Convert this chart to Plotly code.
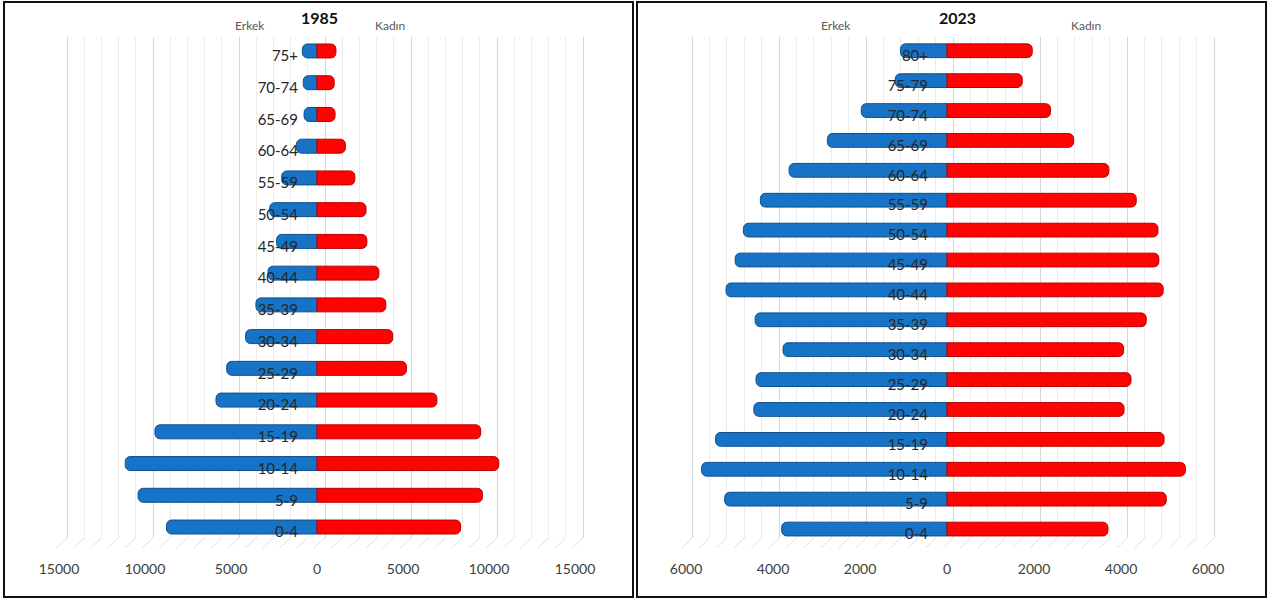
import plotly.graph_objects as go

# ---------------- data ----------------
ages_1985 = ["0-4", "5-9", "10-14", "15-19", "20-24", "25-29", "30-34", "35-39",
             "40-44", "45-49", "50-54", "55-59", "60-64", "65-69", "70-74", "75+"]
erkek_1985 = [8750, 10400, 11150, 9420, 5870, 5250, 4150, 3550,
              2850, 2350, 2750, 2050, 1200, 750, 800, 850]
kadin_1985 = [8350, 9620, 10570, 9520, 6970, 5200, 4400, 4000,
              3600, 2900, 2850, 2200, 1650, 1050, 1000, 1100]

ages_2023 = ["0-4", "5-9", "10-14", "15-19", "20-24", "25-29", "30-34", "35-39",
             "40-44", "45-49", "50-54", "55-59", "60-64", "65-69", "70-74", "75-79", "80+"]
erkek_2023 = [3800, 5110, 5640, 5320, 4440, 4390, 3770, 4410,
              5080, 4870, 4680, 4290, 3630, 2750, 1970, 1190, 1070]
kadin_2023 = [3700, 5040, 5480, 4990, 4070, 4230, 4060, 4580,
              4970, 4870, 4850, 4350, 3720, 2910, 2380, 1730, 1960]

ticks_1985 = [-15000, -10000, -5000, 0, 5000, 10000, 15000]
ticktext_1985 = ["15000", "10000", "5000", "0", "5000", "10000", "15000"]
minor_1985 = list(range(-15000, 15001, 1000))

ticks_2023 = [-6000, -4000, -2000, 0, 2000, 4000, 6000]
ticktext_2023 = ["6000", "4000", "2000", "0", "2000", "4000", "6000"]
minor_2023 = list(range(-6000, 6001, 400))

titles = ["1985", "2023"]
sex_labels = ["Erkek", "Kadın"]

# ---------------- geometry helpers ----------------
W, H = 1269, 603
def px(x):
    return x / W
def py(y):
    return 1 - y / H

FONT = "Lato"
BLUE = "#1773C6"
BLUE_EDGE = "#0E4F8C"
RED = "#FF0303"
RED_EDGE = "#B80000"

fig = go.Figure()

# empty traces so the grid subplots exist (drawn first, underneath bars)
fig.add_trace(go.Scatter(x=[], y=[], xaxis="x", yaxis="y", showlegend=False, hoverinfo="skip"))
fig.add_trace(go.Scatter(x=[], y=[], xaxis="x2", yaxis="y2", showlegend=False, hoverinfo="skip"))

# bars 1985
fig.add_trace(go.Bar(y=ages_1985, x=[-v for v in erkek_1985], orientation="h",
                     xaxis="x3", yaxis="y3", name="Erkek", width=0.44,
                     marker=dict(color=BLUE, line=dict(color=BLUE_EDGE, width=1), cornerradius=5),
                     showlegend=False))
fig.add_trace(go.Bar(y=ages_1985, x=kadin_1985, orientation="h",
                     xaxis="x3", yaxis="y3", name="Kadın", width=0.44,
                     marker=dict(color=RED, line=dict(color=RED_EDGE, width=1), cornerradius=5),
                     showlegend=False))
# bars 2023
fig.add_trace(go.Bar(y=ages_2023, x=[-v for v in erkek_2023], orientation="h",
                     xaxis="x4", yaxis="y4", name="Erkek", width=0.46,
                     marker=dict(color=BLUE, line=dict(color=BLUE_EDGE, width=1), cornerradius=5),
                     showlegend=False))
fig.add_trace(go.Bar(y=ages_2023, x=kadin_2023, orientation="h",
                     xaxis="x4", yaxis="y4", name="Kadın", width=0.46,
                     marker=dict(color=RED, line=dict(color=RED_EDGE, width=1), cornerradius=5),
                     showlegend=False))

grid_y = dict(domain=[py(538), py(37)], range=[0, 1], showgrid=False, zeroline=False,
              showticklabels=False, ticks="", showline=False, fixedrange=True)

def grid_x(domain, rng, majors, minors, anchor):
    return dict(domain=domain, range=rng, anchor=anchor, tickmode="array", tickvals=majors,
                showticklabels=False, ticks="", showline=False, zeroline=False,
                showgrid=True, gridcolor="#D6D6D6", gridwidth=1,
                minor=dict(tickmode="array", tickvals=minors, showgrid=True,
                           gridcolor="#EBEBEB", gridwidth=1, ticks=""),
                fixedrange=True)

def bar_x(domain, rng, vals, text):
    return dict(domain=domain, range=rng, anchor="free", position=py(559),
                tickmode="array", tickvals=vals, ticktext=text,
                showgrid=False, zeroline=False, showline=False, ticks="",
                tickfont=dict(family=FONT, size=14, color="#404040"), fixedrange=True)

def bar_y(domain, cats, xpos):
    return dict(domain=domain, type="category", categoryorder="array", categoryarray=cats,
                range=[-0.5, len(cats) - 0.5], anchor="free", position=px(xpos),
                showgrid=False, zeroline=False, showline=False, ticks="",
                ticklabelshift=5,
                tickfont=dict(family=FONT, size=15, color="#262626"), fixedrange=True)

# left panel: bars zero at 317px, 86px per 5000; grid zero at 325px
s1 = 86 / 5000
fig.update_layout(
    xaxis=grid_x([px(40), px(600)], [(40 - 325) / s1, (600 - 325) / s1], ticks_1985, minor_1985, "y"),
    yaxis=dict(grid_y, anchor="x"),
    xaxis3=bar_x([px(40), px(600)], [(40 - 317) / s1, (600 - 317) / s1], ticks_1985, ticktext_1985),
    yaxis3=bar_y([py(542.9), py(35.1)], ages_1985, 298),
)
# right panel: bars zero at 947px, 87px per 2000; grid zero at 953px
s2 = 87 / 2000
fig.update_layout(
    xaxis2=grid_x([px(660), px(1240)], [(660 - 953) / s2, (1240 - 953) / s2], ticks_2023, minor_2023, "y2"),
    yaxis2=dict(grid_y, anchor="x2"),
    xaxis4=bar_x([px(660), px(1240)], [(660 - 947) / s2, (1240 - 947) / s2], ticks_2023, ticktext_2023),
    yaxis4=bar_y([py(544), py(35.8)], ages_2023, 928),
)

# floor slant lines (3D floor effect)
shapes = []
for v in minor_1985:
    shapes.append(dict(type="line", xref="x", yref="paper", x0=v, x1=v - 11 / s1,
                       y0=py(538), y1=py(548), line=dict(color="#E0E0E0", width=1), layer="below"))
for v in minor_2023:
    shapes.append(dict(type="line", xref="x2", yref="paper", x0=v, x1=v - 10 / s2,
                       y0=py(538), y1=py(548), line=dict(color="#E0E0E0", width=1), layer="below"))
# panel borders
shapes.append(dict(type="rect", xref="paper", yref="paper", x0=px(4), x1=px(633), y0=py(597), y1=py(2),
                   line=dict(color="#111111", width=2)))
shapes.append(dict(type="rect", xref="paper", yref="paper", x0=px(637), x1=px(1266), y0=py(597), y1=py(2),
                   line=dict(color="#111111", width=2)))

annotations = []
for title, cx, ex, kx in [(titles[0], 320, 250, 390), (titles[1], 957, 836, 1086)]:
    annotations.append(dict(text="<b>" + title + "</b>", x=px(cx), y=py(18), xref="paper", yref="paper",
                            xanchor="center", yanchor="middle",
                            showarrow=False, font=dict(family=FONT, size=16, color="#111111")))
    annotations.append(dict(text=sex_labels[0], x=px(ex), y=py(25), xref="paper", yref="paper",
                            xanchor="center", yanchor="middle",
                            showarrow=False, font=dict(family=FONT, size=12, color="#595959")))
    annotations.append(dict(text=sex_labels[1], x=px(kx), y=py(25), xref="paper", yref="paper",
                            xanchor="center", yanchor="middle",
                            showarrow=False, font=dict(family=FONT, size=12, color="#595959")))

fig.update_layout(
    width=W, height=H, margin=dict(l=0, r=0, t=0, b=0),
    paper_bgcolor="white", plot_bgcolor="rgba(0,0,0,0)",
    barmode="relative", showlegend=False,
    shapes=shapes, annotations=annotations,
    font=dict(family=FONT),
)

fig.write_html("out.html", config={"displayModeBar": False},
               post_script="document.body.style.margin='0';document.body.style.overflow='hidden';")
